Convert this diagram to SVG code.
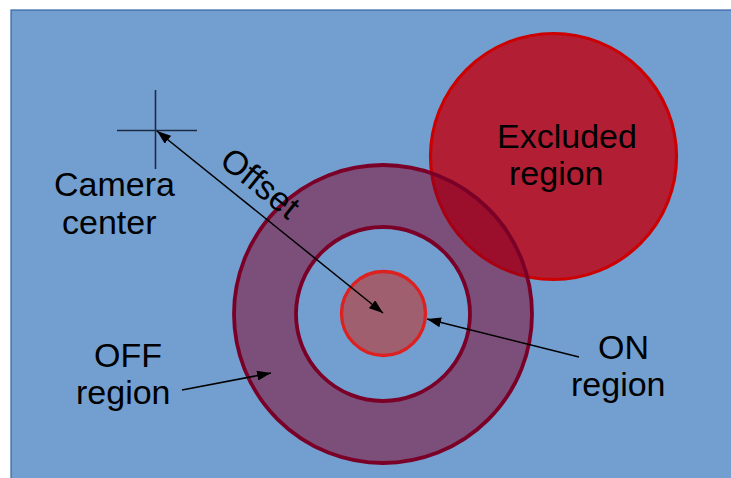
<svg xmlns="http://www.w3.org/2000/svg" width="731" height="478" viewBox="0 0 731 478">
  <style>
    .lbl { font-family: "Liberation Sans", Arial, sans-serif; font-size: 34px; fill: #000000; }
    .conn { stroke: #000000; stroke-width: 1.5; fill: none; }
    .cross { stroke: #1e2b45; stroke-width: 1.6; }
  </style>
  <defs>
    <marker id="ah" viewBox="0 0 14 10" refX="14" refY="5" markerWidth="14" markerHeight="10" markerUnits="userSpaceOnUse" orient="auto-start-reverse">
      <path d="M0,0 L14,5 L0,10 Z" fill="#000000"/>
    </marker>
  </defs>
  <rect id="background" x="11" y="10" width="730" height="478" fill="#729fcf" stroke="#3465a4" stroke-width="1.2"/>

  <g id="excluded-region">
    <circle cx="553.5" cy="156.5" r="123" fill="#b21f35" stroke="#cc0000" stroke-width="3.2"/>
    <text class="lbl" x="497" y="148">Excluded</text>
    <text class="lbl" x="509" y="185">region</text>
  </g>

  <g id="off-region">
    <path d="M234,314 A149,149 0 1,0 532,314 A149,149 0 1,0 234,314 Z M296,314 A87,87 0 1,0 470,314 A87,87 0 1,0 296,314 Z" fill="#840025" fill-opacity="0.5" fill-rule="evenodd" stroke="#7b0028" stroke-width="3.8"/>
  </g>

  <g id="on-region">
    <circle cx="383.5" cy="313.5" r="42" fill="#a05f6e" stroke="#dd2020" stroke-width="3.3"/>
  </g>

  <g id="camera-center">
    <line class="cross" x1="155.5" y1="90" x2="155.5" y2="169"/>
    <line class="cross" x1="117" y1="130.5" x2="197" y2="130.5"/>
    <text class="lbl" x="54" y="196">Camera</text>
    <text class="lbl" x="62" y="234">center</text>
  </g>

  <g id="connectors">
    <line class="conn" x1="157" y1="131" x2="383" y2="313" marker-start="url(#ah)" marker-end="url(#ah)"/>
    <line class="conn" x1="579" y1="357" x2="427" y2="319" marker-end="url(#ah)"/>
    <line class="conn" x1="182" y1="390" x2="271" y2="373" marker-end="url(#ah)"/>
  </g>

  <g id="offset-label">
    <text class="lbl" x="253" y="192" text-anchor="middle" transform="rotate(39 253 192)">Offset</text>
  </g>

  <g id="off-label">
    <text class="lbl" x="94" y="367">OFF</text>
    <text class="lbl" x="76" y="404">region</text>
  </g>

  <g id="on-label">
    <text class="lbl" x="598" y="359">ON</text>
    <text class="lbl" x="571" y="396">region</text>
  </g>
</svg>
